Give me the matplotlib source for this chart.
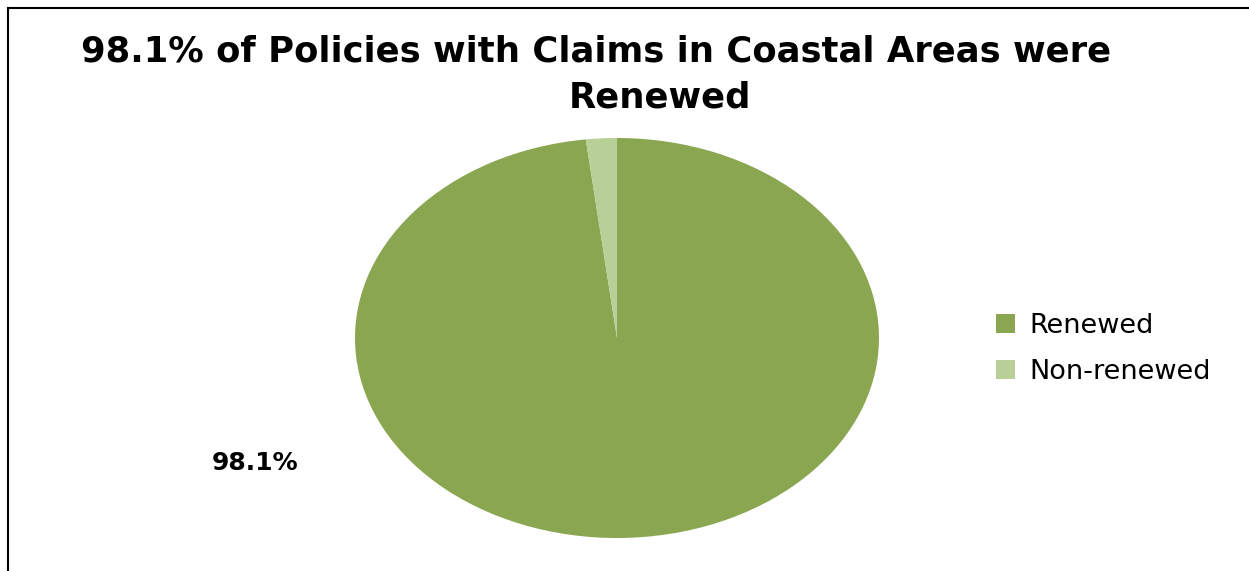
import matplotlib.pyplot as plt
from matplotlib.lines import Line2D
from matplotlib.patches import Patch

# data
labels = ['Renewed', 'Non-renewed']
shares = [98.1, 1.9]
colors = ['#8aa650', '#b8cf97']

W, H = 1249, 571
fig = plt.figure(figsize=(W / 100, H / 100), dpi=100)

# pie drawn as an ellipse: axes box stretched wider than tall
ax = fig.add_axes([355 / W, (H - 538) / H, 524 / W, 400 / H])
wedges, _ = ax.pie(shares, colors=colors, startangle=90, counterclock=False,
                   wedgeprops=dict(linewidth=0))
ax.set_xlim(-1, 1)
ax.set_ylim(-1, 1)
ax.set_aspect('auto')

# title, two lines as wrapped in the original chart
fig.text(596 / W, 1 - 52 / H, f'{shares[0]}% of Policies with Claims in Coastal Areas were',
         ha='center', va='center', fontsize=25.5, fontweight='bold')
fig.text(660 / W, 1 - 97 / H, 'Renewed',
         ha='center', va='center', fontsize=25.5, fontweight='bold')

# data label for the big slice
fig.text(255 / W, 1 - 463 / H, f'{shares[0]}%', ha='center', va='center',
         fontsize=18, fontweight='bold')

# legend
handles = [Patch(facecolor=c, edgecolor='none') for c in colors]
fig.legend(handles, labels, loc='center left', bbox_to_anchor=(972 / W, 1 - 349 / H),
           frameon=False, fontsize=19.5, handlelength=0.7, handleheight=0.7,
           handletextpad=0.5, labelspacing=0.75)

# chart frame (only top and left edges fall inside the image)
fig.add_artist(Line2D([7.5 / W, 7.5 / W], [0, 1 - 7.5 / H], transform=fig.transFigure,
                      color='black', linewidth=1.5))
fig.add_artist(Line2D([7.5 / W, 1], [1 - 7.5 / H, 1 - 7.5 / H], transform=fig.transFigure,
                      color='black', linewidth=1.5))

fig.savefig('out.png', dpi=100)
